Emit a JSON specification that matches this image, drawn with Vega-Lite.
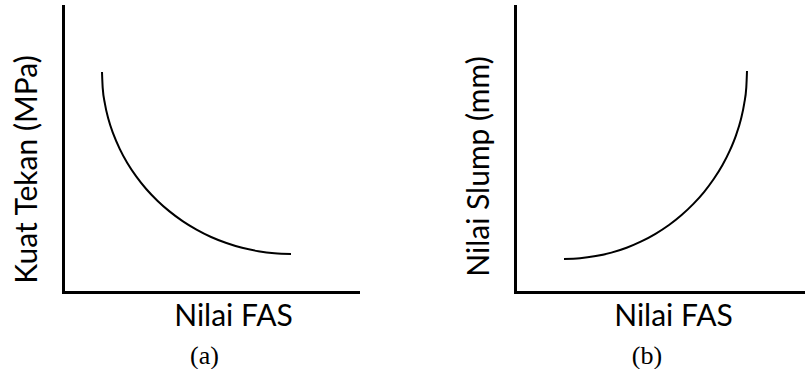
{
  "$schema": "https://vega.github.io/schema/vega-lite/v6.json",
  "background": "white",
  "padding": {"left": 12, "top": 6, "right": 0, "bottom": 0},
  "spacing": 106,
  "config": {
    "view": {"stroke": null},
    "axis": {
      "domainColor": "black",
      "domainWidth": 3,
      "domainCap": "square",
      "ticks": false,
      "labels": false,
      "grid": false,
      "titleFont": "Lato",
      "titleFontSize": 30,
      "titleFontWeight": "normal",
      "titleColor": "black"
    },
    "title": {"font": "Liberation Serif", "fontSize": 26, "fontWeight": "normal", "color": "black", "orient": "bottom"}
  },
  "hconcat": [
    {
      "width": 295,
      "height": 286,
      "title": {"text": "(a)", "dx": -6, "offset": 12},
      "data": {"values": [
        {"fas": 39, "kuat": 220}, {"fas": 39.7, "kuat": 204.1}, {"fas": 41.9, "kuat": 188.4},
        {"fas": 45.4, "kuat": 172.9}, {"fas": 50.4, "kuat": 157.8}, {"fas": 56.7, "kuat": 143.1},
        {"fas": 64.3, "kuat": 129}, {"fas": 73.2, "kuat": 115.6}, {"fas": 83.2, "kuat": 103},
        {"fas": 94.4, "kuat": 91.3}, {"fas": 106.5, "kuat": 80.6}, {"fas": 119.6, "kuat": 70.9},
        {"fas": 133.5, "kuat": 62.4}, {"fas": 148.1, "kuat": 55}, {"fas": 163.4, "kuat": 49},
        {"fas": 179.1, "kuat": 44.2}, {"fas": 195.2, "kuat": 40.8}, {"fas": 211.5, "kuat": 38.7},
        {"fas": 228, "kuat": 38}
      ]},
      "mark": {"type": "line", "color": "black", "strokeWidth": 2, "interpolate": "monotone"},
      "encoding": {
        "x": {"field": "fas", "type": "quantitative", "scale": {"domain": [0, 295], "nice": false, "zero": false},
              "axis": {"title": "Nilai FAS", "titleX": 170, "titlePadding": 9}},
        "y": {"field": "kuat", "type": "quantitative", "scale": {"domain": [0, 286], "nice": false, "zero": false},
              "axis": {"title": "Kuat Tekan (MPa)", "titleY": 163, "titlePadding": 21}}
      }
    },
    {
      "width": 290,
      "height": 286,
      "title": {"text": "(b)", "dx": -13, "offset": 12},
      "data": {"values": [
        {"fas": 49, "slump": 33}, {"fas": 65, "slump": 33.7}, {"fas": 80.8, "slump": 35.9},
        {"fas": 96.4, "slump": 39.4}, {"fas": 111.6, "slump": 44.3}, {"fas": 126.3, "slump": 50.6},
        {"fas": 140.5, "slump": 58.2}, {"fas": 154, "slump": 67}, {"fas": 166.6, "slump": 77},
        {"fas": 178.4, "slump": 88.1}, {"fas": 189.2, "slump": 100.2}, {"fas": 198.9, "slump": 113.2},
        {"fas": 207.5, "slump": 127}, {"fas": 214.9, "slump": 141.6}, {"fas": 221, "slump": 156.7},
        {"fas": 225.8, "slump": 172.3}, {"fas": 229.2, "slump": 188.4}, {"fas": 231.3, "slump": 204.6},
        {"fas": 232, "slump": 221}
      ]},
      "mark": {"type": "line", "color": "black", "strokeWidth": 2, "interpolate": "monotone"},
      "encoding": {
        "x": {"field": "fas", "type": "quantitative", "scale": {"domain": [0, 290], "nice": false, "zero": false},
              "axis": {"title": "Nilai FAS", "titleX": 158, "titlePadding": 9}},
        "y": {"field": "slump", "type": "quantitative", "scale": {"domain": [0, 286], "nice": false, "zero": false},
              "axis": {"title": "Nilai Slump (mm)", "titleY": 160, "titlePadding": 21}}
      }
    }
  ]
}
